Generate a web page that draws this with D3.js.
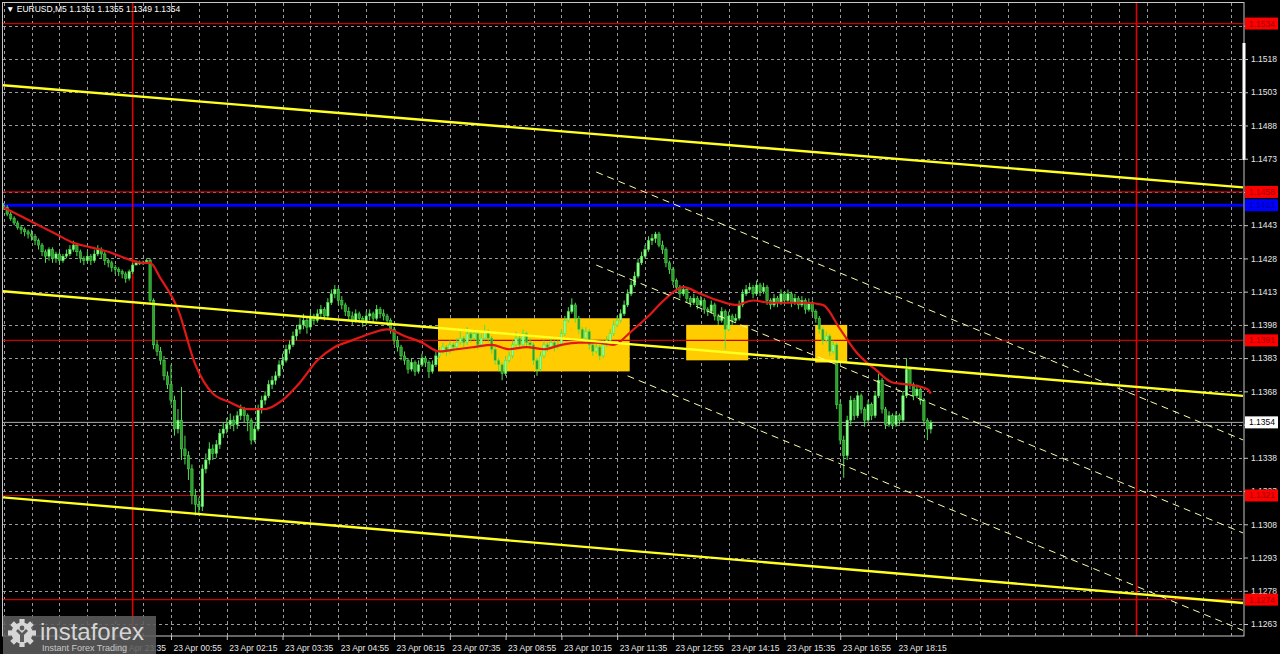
<!DOCTYPE html>
<html><head><meta charset="utf-8">
<script src="https://cdn.jsdelivr.net/npm/d3@7"></script>
<style>html,body{margin:0;background:#000;overflow:hidden}svg{display:block}</style>
</head><body>
<svg id="c" width="1280" height="654"></svg>
<script>
// ---------------- DATA ----------------
const titleText = "EURUSD,M5  1.1351 1.1355 1.1349 1.1354";
const firstBarTime = "2025-04-22T20:55:00";
const barMinutes = 5;
const pipBase = 1.1300;           // prices below are in pips above 1.1300
const firstOpenPips = 152;
const closePips = [151,148,146,144,142,141,140,139,138,136,
134,131,129,132,128,130,127,129,130,132,
134,131,128,127,129,127,130,132,130,127,
126,124,123,122,121,119,122,125,126,126,
126,127,109,89,86,82,75,71,64,51,
55,42,39,33,21,17,16,33,37,42,
40,44,49,51,53,55,53,57,60,57,
55,46,51,60,64,66,71,73,75,80,
82,87,89,93,96,98,100,97,102,100,
103,105,102,108,112,114,109,107,104,102,
100,103,101,99,102,103,101,105,103,102,
100,96,91,88,84,82,78,81,77,80,
83,81,77,80,84,86,88,86,89,88,
90,92,90,94,92,94,89,92,95,92,
87,82,80,76,82,84,89,92,89,94,
90,89,82,78,84,89,88,90,88,89,
94,100,104,107,101,96,92,95,89,86,
88,84,89,91,94,98,100,103,107,112,
116,120,126,129,132,136,137,139,134,132,
126,123,118,115,112,114,110,108,110,107,
109,105,104,107,102,100,104,96,102,100,
101,107,112,114,115,112,116,113,115,109,
107,110,108,112,109,112,108,110,107,109,
105,108,104,101,96,91,93,86,89,62,
46,39,55,64,57,66,60,55,62,57,
66,73,60,53,57,53,57,55,66,78,
71,66,69,64,55,51,54];
const highPips = [153,152,149,147,145,143,142,141,141,139,
137,135,132,133,133,131,131,130,132,134,
136,135,132,129,131,130,132,134,133,131,
128,127,125,124,123,122,123,126,127,127,
127,128,128,110,91,88,84,77,80,66,
60,70,48,41,35,24,20,35,40,45,
44,46,51,54,56,58,57,59,62,61,
58,56,53,62,66,68,73,75,77,82,
85,89,91,95,98,101,103,101,104,103,
105,107,106,110,114,116,115,111,108,106,
104,105,104,102,104,105,104,107,106,105,
103,101,97,93,89,86,83,83,82,82,
85,84,82,82,86,88,90,89,91,90,
92,95,93,97,95,96,95,94,98,96,
93,88,83,81,84,86,91,95,93,96,
95,92,90,83,86,91,90,92,91,91,
96,102,106,110,108,102,97,97,96,90,
90,89,91,93,96,100,102,105,109,114,
118,122,128,131,134,138,139,140,140,136,
133,127,124,119,116,116,115,111,112,111,
111,110,106,109,108,103,106,105,104,103,
103,109,114,116,117,116,118,117,117,116,
110,112,111,114,113,114,113,112,111,111,
110,110,109,105,102,97,95,94,91,90,
64,48,57,66,65,68,67,61,64,63,
68,76,74,61,59,58,59,58,68,83,
79,72,71,70,65,56,55];
const lowPips = [150,147,145,143,141,139,138,137,136,134,
132,129,126,127,126,126,125,126,128,129,
131,129,126,125,126,125,126,129,128,125,
124,122,121,120,119,117,118,121,125,125,
125,126,108,87,84,80,73,69,62,48,
49,37,35,28,17,12,12,14,31,35,
37,38,42,47,49,51,50,51,55,54,
50,44,45,50,58,62,65,69,71,74,
78,81,85,88,91,94,96,94,96,98,
99,101,100,101,107,110,107,105,102,100,
98,99,99,97,98,100,99,100,101,100,
98,94,89,86,82,80,76,77,75,76,
79,79,74,76,79,83,85,84,85,86,
87,89,88,89,90,91,87,88,91,90,
85,80,77,73,75,81,83,88,87,88,
88,87,80,75,77,83,86,87,86,87,
88,93,99,103,99,94,90,91,87,84,
85,82,83,88,90,93,97,99,102,106,
111,115,119,125,128,131,134,135,133,130,
124,121,116,113,110,111,108,106,107,105,
106,103,102,103,100,98,99,87,95,98,
99,100,106,111,113,110,111,111,112,107,
105,106,106,107,107,108,106,107,105,106,
103,104,102,99,94,89,90,84,85,60,
44,29,37,53,55,56,58,52,54,55,
56,65,58,51,52,51,52,53,54,65,
69,64,65,62,53,46,49];
// moving average at these bar indexes
const maBarIndex = [0,5,10,15,20,25,30,35,40,42,45,50,55,60,65,70,75,80,85,90,95,100,105,110,115,120,125,130,135,140,145,150,155,160,165,170,175,180,185,190,195,200,205,210,215,220,225,230,235,240,245,250,255,260,265,266];
const maPips = [151,147,143,139,135,133,131,128,126,126,119,105,80,67,63,60,60,64,72,82,88,91,94,96,93,90,86,87,88,89,87,88,87,89,90,90,89,95,102,110,115,112,109,107,109,108,108,108,107,96,85,78,72,71,69,67];

// axis
const priceTicks = [1.1263,1.1278,1.1293,1.1308,1.1323,1.1338,1.1353,1.1368,1.1383,1.1398,1.1413,1.1428,1.1443,1.1458,1.1473,1.1488,1.1503,1.1518,1.1533];
const timeLabels = ["2025-04-22T23:35","2025-04-23T00:55","2025-04-23T02:15","2025-04-23T03:35","2025-04-23T04:55","2025-04-23T06:15","2025-04-23T07:35","2025-04-23T08:55","2025-04-23T10:15","2025-04-23T11:35","2025-04-23T12:55","2025-04-23T14:15","2025-04-23T15:35","2025-04-23T16:55","2025-04-23T18:15"];
const gridStart = "2025-04-22T20:55";
const gridStepMinutes = 40;

// horizontal levels
const redLevels = [1.1534, 1.1458, 1.1391, 1.1321, 1.1274];
const blueLevel = 1.1452;
const currentPrice = 1.1354;
// day separators
const daySeparators = ["2025-04-23T00:00", "2025-04-24T00:00"];
// yellow trend channel [t1, p1, t2, p2]
const trendLines = [
  ["2025-04-22T21:00", 1.1506, "2025-04-24T00:00", 1.1464],
  ["2025-04-22T21:00", 1.1413, "2025-04-24T00:00", 1.1370],
  ["2025-04-22T21:00", 1.1320, "2025-04-24T00:00", 1.12766]
];
// thin dashed channel (start point, second point)
const dashLines = [
  ["2025-04-23T11:05", 1.1467, "2025-04-24T00:00", 1.1366],
  ["2025-04-23T11:05", 1.1425, "2025-04-24T00:00", 1.1324],
  ["2025-04-23T11:50", 1.1375, "2025-04-24T00:00", 1.1280]
];
// yellow rectangles [start, end, top, bottom]
const boxStart = ["2025-04-23T07:18", "2025-04-23T13:14", "2025-04-23T16:19"];
const boxEnd   = ["2025-04-23T11:53", "2025-04-23T14:43", "2025-04-23T17:05"];
const boxTop   = [1.1401, 1.1398, 1.1398];
const boxBottom= [1.1377, 1.1382, 1.1381];

// ---------------- DRAW ----------------
const F = "'Liberation Sans', Arial, sans-serif";
const svg = d3.select("#c");
const L = 3, R = 1243, T = 3, B = 636;
const P = v => pipBase + v / 10000;
const D = s => new Date(s);

const x = d3.scaleTime().domain([D("2025-04-23T00:55"), D("2025-04-23T18:15")]).range([171, 896]);
const y = d3.scaleLinear().domain([1.1263, 1.1518]).range([624, 59]);

svg.append("rect").attr("width", 1280).attr("height", 654).attr("fill", "#000");
svg.append("clipPath").attr("id", "pc").append("rect").attr("x", L).attr("y", T).attr("width", R - L).attr("height", B - T);
const g = svg.append("g").attr("clip-path", "url(#pc)");

// grid
const gridTimes = [];
for (let t = D(gridStart); x(t) < R; t = new Date(+t + gridStepMinutes * 60000)) gridTimes.push(t);
g.selectAll(".vg").data(gridTimes).join("line")
  .attr("x1", d => Math.round(x(d)) + 0.5).attr("x2", d => Math.round(x(d)) + 0.5).attr("y1", T).attr("y2", B)
  .attr("stroke", "#9a9a9a").attr("stroke-dasharray", "3,3").attr("stroke-width", 1);
g.selectAll(".hg").data(priceTicks).join("line")
  .attr("x1", L).attr("x2", R).attr("y1", d => Math.round(y(d)) + 0.5).attr("y2", d => Math.round(y(d)) + 0.5)
  .attr("stroke", "#9a9a9a").attr("stroke-dasharray", "3,3").attr("stroke-width", 1);

// boxes
g.selectAll(".box").data(boxStart.map((s, i) => i)).join("rect")
  .attr("x", i => x(D(boxStart[i]))).attr("width", i => x(D(boxEnd[i])) - x(D(boxStart[i])))
  .attr("y", i => y(boxTop[i])).attr("height", i => y(boxBottom[i]) - y(boxTop[i]))
  .attr("fill", "#ffcc00");

// levels
g.selectAll(".rl").data(redLevels).join("line")
  .attr("x1", L).attr("x2", R).attr("y1", d => y(d)).attr("y2", d => y(d))
  .attr("stroke", "#c80000").attr("stroke-width", 1.2);
g.append("line").attr("x1", L).attr("x2", R).attr("y1", y(blueLevel)).attr("y2", y(blueLevel))
  .attr("stroke", "#0000ff").attr("stroke-width", 3);
g.append("line").attr("x1", L).attr("x2", R).attr("y1", y(currentPrice)).attr("y2", y(currentPrice))
  .attr("stroke", "#b0b0b0").attr("stroke-width", 1);
g.selectAll(".ds").data(daySeparators).join("line")
  .attr("x1", d => x(D(d))).attr("x2", d => x(D(d))).attr("y1", T).attr("y2", B)
  .attr("stroke", "#e00000").attr("stroke-width", 1.6);

// candles
const bars = closePips.map((c, i) => ({
  t: new Date(+D(firstBarTime) + i * barMinutes * 60000),
  o: P(i === 0 ? firstOpenPips : closePips[i - 1]),
  c: P(c), h: P(highPips[i]), l: P(lowPips[i])
}));
const bw = 2.4;
const cg = g.append("g");
cg.selectAll(".wk").data(bars).join("line")
  .attr("x1", d => x(d.t)).attr("x2", d => x(d.t)).attr("y1", d => y(d.h)).attr("y2", d => y(d.l))
  .attr("stroke", "#4fe04f").attr("stroke-width", 1);
cg.selectAll(".bd").data(bars).join("rect")
  .attr("x", d => x(d.t) - bw / 2).attr("width", bw)
  .attr("y", d => y(Math.max(d.o, d.c))).attr("height", d => Math.max(1, Math.abs(y(d.o) - y(d.c))))
  .attr("fill", d => d.c >= d.o ? "#8cff8c" : "#2e9e2e").attr("stroke", "#4fe04f").attr("stroke-width", 0.5);

// MA
const maPts = maBarIndex.map((bi, k) => [x(bars[bi].t), y(P(maPips[k]))]);
g.append("path").attr("d", d3.line().curve(d3.curveMonotoneX)(maPts))
  .attr("fill", "none").attr("stroke", "#e01818").attr("stroke-width", 2.2);

// trend lines extended over the whole plot
const tL = x.invert(L), tR = x.invert(R);
function priceAt(line, t) {
  const t1 = +D(line[0]), t2 = +D(line[2]);
  return line[1] + (line[3] - line[1]) * (+t - t1) / (t2 - t1);
}
g.selectAll(".tl").data(trendLines).join("line")
  .attr("x1", x(tL)).attr("x2", x(tR))
  .attr("y1", d => y(priceAt(d, tL))).attr("y2", d => y(priceAt(d, tR)))
  .attr("stroke", "#ffff22").attr("stroke-width", 2.4);
g.selectAll(".dl").data(dashLines).join("line")
  .attr("x1", d => x(D(d[0]))).attr("x2", x(tR))
  .attr("y1", d => y(d[1])).attr("y2", d => y(priceAt(d, tR)))
  .attr("stroke", "#ffffa8").attr("stroke-width", 1).attr("stroke-dasharray", "7,5");

// frame
const fr = svg.append("g").attr("stroke", "#c8c8c8").attr("stroke-width", 1).attr("fill", "none");
fr.append("rect").attr("x", 2.5).attr("y", 2.5).attr("width", R + 1 - 2.5).attr("height", B - 2.5);
svg.append("rect").attr("x", R - 0.5).attr("y", 43).attr("width", 3).attr("height", 117).attr("fill", "#ffffff");

// axes
const ay = svg.append("g").attr("transform", `translate(${R + 1},0)`)
  .call(d3.axisRight(y).tickValues(priceTicks).tickFormat(d3.format(".4f")).tickSize(4).tickPadding(3));
ay.select(".domain").remove();
ay.selectAll("line").attr("stroke", "#c8c8c8");
ay.selectAll("text").attr("fill", "#e8e8e8").attr("font-family", F).attr("font-size", 8.5);

const ax = svg.append("g").attr("transform", `translate(0,${B})`)
  .call(d3.axisBottom(x).tickValues(timeLabels.map(D)).tickFormat(d3.timeFormat("%d %b %H:%M")).tickSize(4));
ax.select(".domain").remove();
ax.selectAll("line").attr("stroke", "#c8c8c8");
ax.selectAll("text").attr("fill", "#e8e8e8").attr("font-family", F).attr("font-size", 8.5)
  .attr("text-anchor", "start").attr("x", 2).attr("dy", "0.9em");

// price labels
function priceLabel(v, bg, fg) {
  const gg = svg.append("g").attr("transform", `translate(${R + 2},${y(v)})`);
  gg.append("rect").attr("x", 0).attr("y", -6).attr("width", 33).attr("height", 12).attr("fill", bg);
  gg.append("text").attr("x", 4).attr("y", 3).text(d3.format(".4f")(v))
    .attr("fill", fg).attr("font-family", F).attr("font-size", 8.5);
}
redLevels.forEach(v => priceLabel(v, "#ff0000", "#a00000"));
priceLabel(blueLevel, "#0000ff", "#0000a0");
priceLabel(currentPrice, "#ffffff", "#000000");

// title
svg.append("text").attr("x", 6).attr("y", 12).attr("fill", "#ffffff").attr("font-family", F).attr("font-size", 8.5)
  .text("\u25BC " + titleText);

// logo
const lg = svg.append("g");
lg.append("rect").attr("x", 3).attr("y", 616).attr("width", 153).attr("height", 38).attr("fill", "#5c5c5c").attr("opacity", 0.88);
const gear = lg.append("g").attr("transform", "translate(22,633)").attr("fill", "#d6d6d6");
d3.range(8).forEach(k => gear.append("rect").attr("x", -2.6).attr("y", -14).attr("width", 5.2).attr("height", 6).attr("transform", `rotate(${k * 45})`));
gear.append("circle").attr("r", 10.5);
gear.append("circle").attr("r", 2.4).attr("cy", -5).attr("fill", "#5c5c5c");
gear.append("path").attr("d", "M-6,-2 L-2,2 L-2,9 L2,9 L2,2 L6,-2 L4,-4 L0,0 L-4,-4 Z").attr("fill", "#5c5c5c");
lg.append("text").attr("x", 40).attr("y", 640).attr("fill", "#d6d6d6").attr("font-family", F).attr("font-size", 24).text("instaforex");
lg.append("text").attr("x", 42).attr("y", 651).attr("fill", "#c8c8c8").attr("font-family", F).attr("font-size", 9).text("Instant Forex Trading");
</script>
</body></html>
